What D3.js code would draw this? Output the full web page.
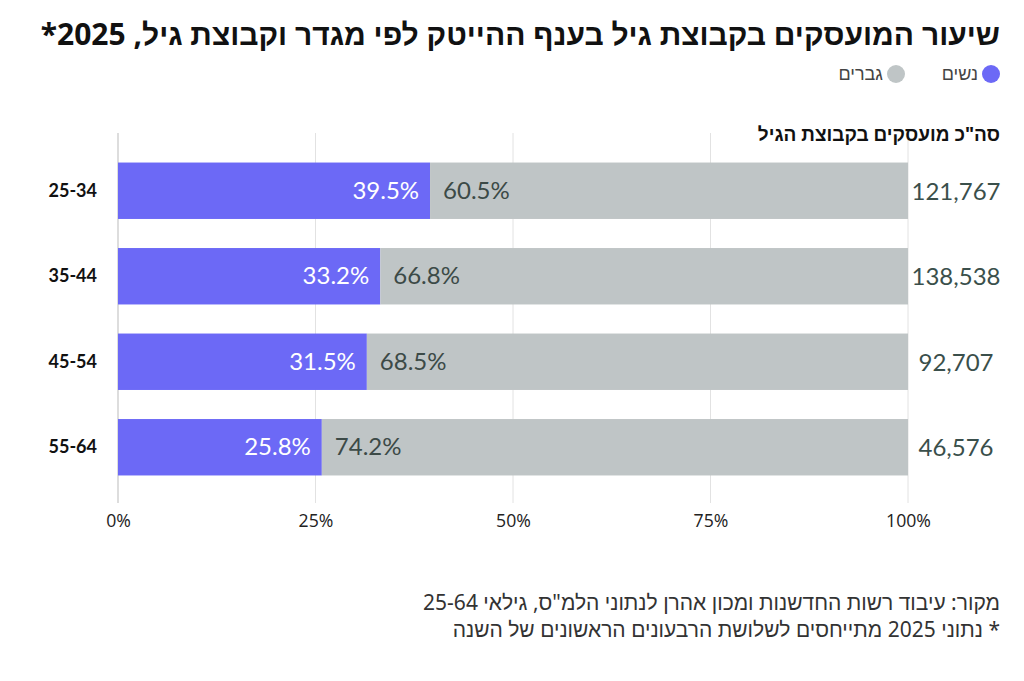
<!DOCTYPE html>
<html lang="he">
<head>
<meta charset="utf-8">
<script src="https://cdn.jsdelivr.net/npm/d3@7"></script>
<style>
  body { margin: 0; background: #fff; }
  svg text { font-family: Lato, "Open Sans", sans-serif; }
</style>
</head>
<body>
<div id="chart"></div>
<script>
const ageGroups = ["25-34", "35-44", "45-54", "55-64"];
const womenPct = [39.5, 33.2, 31.5, 25.8];
const menPct = [60.5, 66.8, 68.5, 74.2];
const totals = ["121,767", "138,538", "92,707", "46,576"];
const tickValues = [0, 25, 50, 75, 100];

const womenColor = "#6c69f6";
const menColor = "#bfc5c6";

const W = 1024, H = 681;
const margin = { left: 118, right: 116 };

const svg = d3.select("#chart").append("svg")
    .attr("width", W)
    .attr("height", H);

// rtl text: anchor "start" sits at the right edge
function rtlText(sel) {
    return sel.attr("direction", "rtl")
        .attr("text-anchor", "start")
        .style("font-family", "'Noto Sans', sans-serif");
}

// Title
svg.append("text")
    .attr("x", 1000).attr("y", 45)
    .attr("font-size", 30).attr("font-weight", 700)
    .attr("fill", "#111")
    .call(rtlText)
    .text("שיעור המועסקים בקבוצת גיל בענף ההייטק לפי מגדר וקבוצת גיל, 2025*");

// Legend
const legend = [
    { label: "נשים", color: womenColor, x: 991 },
    { label: "גברים", color: menColor, x: 896 }
];
const lg = svg.append("g").selectAll("g").data(legend).enter().append("g");
lg.append("circle")
    .attr("cx", d => d.x).attr("cy", 74).attr("r", 9)
    .attr("fill", d => d.color);
lg.append("text")
    .attr("x", d => d.x - 13).attr("y", 80)
    .attr("font-size", 18)
    .attr("fill", "#444")
    .call(rtlText)
    .text(d => d.label);

// Scales
const x = d3.scaleLinear().domain([0, 100]).range([margin.left, W - margin.right]);
const y = d3.scaleBand().domain(ageGroups).range([148, 490]).paddingInner(0.34).paddingOuter(0.17);

// Gridlines
svg.append("g").selectAll("line").data(tickValues).enter().append("line")
    .attr("x1", d => x(d)).attr("x2", d => x(d))
    .attr("y1", 133).attr("y2", 503)
    .attr("stroke", d => d === 0 ? "#bbb" : "#e2e2e2")
    .attr("stroke-width", 1);

// Axis tick labels
const xAxis = svg.append("g")
    .attr("transform", "translate(0,503)")
    .call(d3.axisBottom(x).tickValues(tickValues).tickFormat(d => d + "%").tickSize(0).tickPadding(11));
xAxis.select(".domain").remove();
xAxis.selectAll("text")
    .style("font-size", "19px")
    .style("font-family", "'Open Sans', sans-serif")
    .attr("fill", "#222")
    .attr("transform", "scale(0.93,1)");

const rows = ageGroups.map((g, i) => ({ g, w: womenPct[i], m: menPct[i], total: totals[i] }));

// Bars: women
svg.append("g").selectAll("rect").data(rows).enter().append("rect")
    .attr("x", x(0))
    .attr("y", d => y(d.g))
    .attr("width", d => x(d.w) - x(0))
    .attr("height", y.bandwidth())
    .attr("fill", womenColor);

// Bars: men
svg.append("g").selectAll("rect").data(rows).enter().append("rect")
    .attr("x", d => x(d.w))
    .attr("y", d => y(d.g))
    .attr("width", d => x(d.w + d.m) - x(d.w))
    .attr("height", y.bandwidth())
    .attr("fill", menColor);

// Labels inside bars
svg.append("g").selectAll("text").data(rows).enter().append("text")
    .attr("x", d => x(d.w) - 11)
    .attr("y", d => y(d.g) + y.bandwidth() / 2 + 8)
    .attr("text-anchor", "end")
    .attr("font-size", 24)
    .attr("fill", "#fff")
    .text(d => d.w.toFixed(1) + "%");

svg.append("g").selectAll("text").data(rows).enter().append("text")
    .attr("x", d => x(d.w) + 13)
    .attr("y", d => y(d.g) + y.bandwidth() / 2 + 8)
    .attr("font-size", 24)
    .attr("fill", "#3c4a47")
    .text(d => d.m.toFixed(1) + "%");

// Age labels
svg.append("g").selectAll("text").data(rows).enter().append("text")
    .attr("x", 97)
    .attr("y", d => y(d.g) + y.bandwidth() / 2 + 6)
    .attr("text-anchor", "end")
    .attr("font-size", 18).attr("font-weight", 700)
    .attr("fill", "#111")
    .text(d => d.g);

// Totals header
svg.append("text")
    .attr("x", 1000).attr("y", 141)
    .attr("font-size", 19).attr("font-weight", 700)
    .attr("fill", "#111")
    .call(rtlText)
    .text("סה\"כ מועסקים בקבוצת הגיל");

// Totals
svg.append("g").selectAll("text").data(rows).enter().append("text")
    .attr("x", 956)
    .attr("y", d => y(d.g) + y.bandwidth() / 2 + 9)
    .attr("text-anchor", "middle")
    .attr("font-size", 24)
    .attr("fill", "#3a4f4b")
    .text(d => d.total);

// Footer
const notes = [
    "מקור: עיבוד רשות החדשנות ומכון אהרן לנתוני הלמ\"ס, גילאי 25-64",
    "* נתוני 2025 מתייחסים לשלושת הרבעונים הראשונים של השנה"
];
svg.append("g").selectAll("text").data(notes).enter().append("text")
    .attr("x", 1000)
    .attr("y", (d, i) => 610 + i * 27)
    .attr("font-size", 21)
    .attr("fill", "#333")
    .call(rtlText)
    .text(d => d);
</script>
</body>
</html>
